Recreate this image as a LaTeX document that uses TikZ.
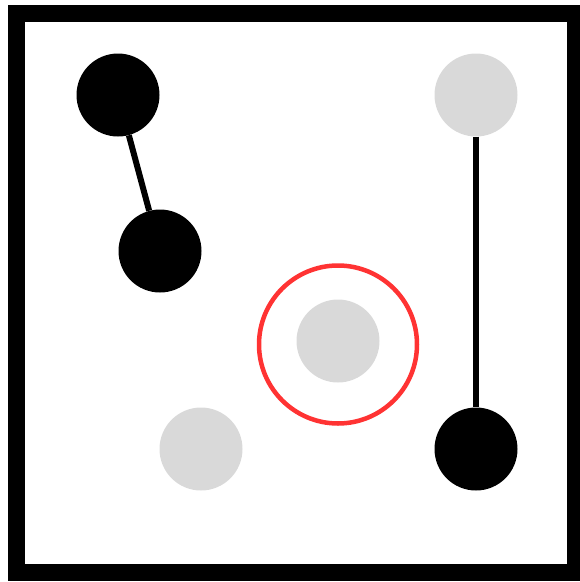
\documentclass[tikz,border=0pt]{standalone}
\usepackage{tikz}
\usetikzlibrary{positioning}
\definecolor{Stone}{HTML}{D9D9D9}
\definecolor{Ring}{HTML}{FF3333}

\begin{document}
\begin{tikzpicture}[x=1pt,y=-1pt,
  blackdot/.style={circle,fill=black,minimum size=83pt,inner sep=0pt},
  greydot/.style={circle,fill=Stone,minimum size=83pt,inner sep=0pt},
  link/.style={line width=6pt}]
  \useasboundingbox (0,0) rectangle (580,582);
  \draw[line width=17pt] (16.5,13) rectangle (575,572.5);
  % stones
  \node[blackdot] (b1) at (118,95) {};
  \node[blackdot] (b2) at (160,251) {};
  \node[greydot] (g1) at (476,95) {};
  \node[blackdot] (b3) at (476,449) {};
  \node[greydot] (g2) at (338,341) {};
  \node[greydot] (g3) at (201,449) {};
  % links
  \draw[link] (b1) -- (b2);
  \draw[link] (g1) -- (b3);
  % highlight
  \node[circle,draw=Ring,line width=4.5pt,minimum size=158pt,inner sep=0pt] (ring) at (338,344.5) {};
\end{tikzpicture}
\end{document}
